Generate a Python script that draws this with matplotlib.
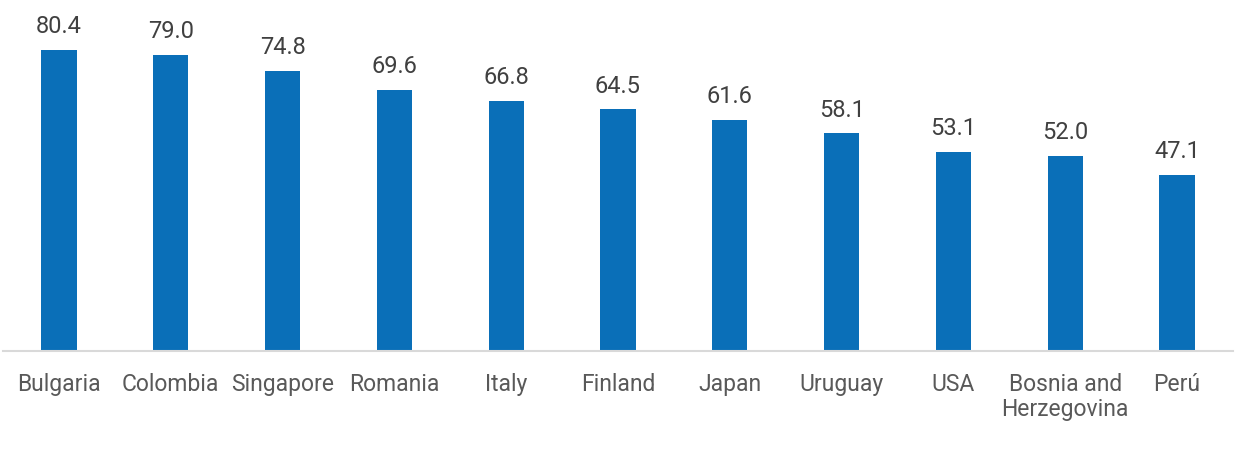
import matplotlib
matplotlib.use("Agg")
import matplotlib.pyplot as plt
import numpy as np

countries = ["Bulgaria", "Colombia", "Singapore", "Romania", "Italy", "Finland",
             "Japan", "Uruguay", "USA", "Bosnia and\nHerzegovina", "Perú"]
values = [80.4, 79.0, 74.8, 69.6, 66.8, 64.5, 61.6, 58.1, 53.1, 52.0, 47.1]

plt.rcParams['font.family'] = ['Roboto', 'DejaVu Sans']

fig = plt.figure(figsize=(12.4, 4.53), dpi=100)
ax = fig.add_axes([3 / 1240, 102 / 453, 1230 / 1240, 351 / 453])

x = np.arange(len(countries))
bars = ax.bar(x, values, width=0.315, color='#0a6fb8')

# value labels above the bars
for bar, v in zip(bars, values):
    ax.annotate(f'{v:.1f}', xy=(bar.get_x() + bar.get_width() / 2, v),
                xytext=(0, 8.5), textcoords='offset points',
                ha='center', va='bottom', fontsize=17, color='#404040')

ax.set_xlim(-0.5, len(countries) - 0.5)
ax.set_ylim(0, 93.7)
ax.set_xticks(x)
ax.set_xticklabels(countries, fontsize=16.5, color='#595959', linespacing=1.12)
ax.tick_params(axis='x', length=0, pad=15.5)
ax.set_yticks([])

for s in ['top', 'right', 'left']:
    ax.spines[s].set_visible(False)
ax.spines['bottom'].set_color('#d9d9d9')
ax.spines['bottom'].set_linewidth(1.5)

fig.savefig('out.png', dpi=100)
